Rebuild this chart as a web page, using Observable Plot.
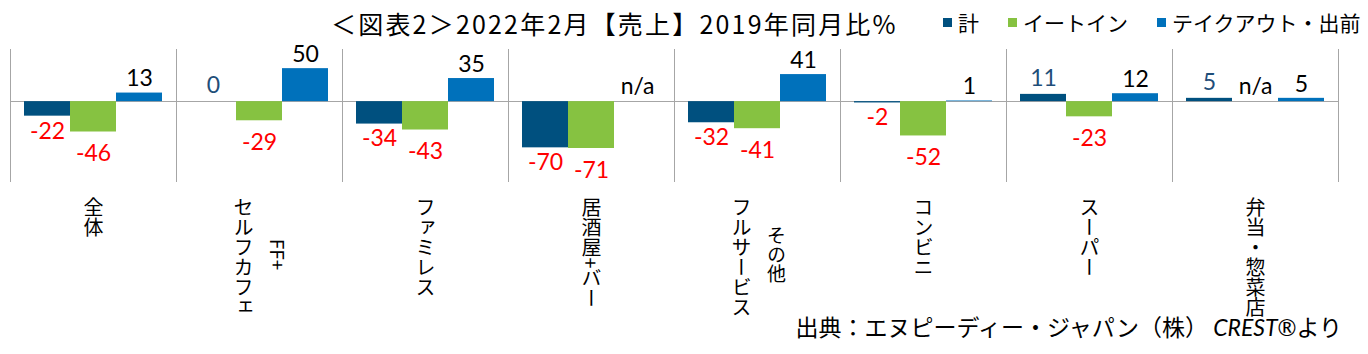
<!DOCTYPE html>
<html><head><meta charset="utf-8">
<script src="https://cdn.jsdelivr.net/npm/d3@7"></script>
<script src="https://cdn.jsdelivr.net/npm/@observablehq/plot@0.6"></script>
<style>
html,body{margin:0;padding:0;background:#fff;}
body{width:1368px;height:354px;position:relative;overflow:hidden;font-family:"Noto Sans CJK JP","Noto Sans",sans-serif;color:#000;}
#title{position:absolute;left:331px;top:7px;font-size:25px;letter-spacing:2.2px;white-space:nowrap;line-height:32px;}
#legend{position:absolute;left:943px;top:6px;font-size:21px;white-space:nowrap;line-height:32px;display:flex;}
#legend .item{display:flex;align-items:center;margin-right:29px;}
#legend .sw{display:inline-block;width:9px;height:9px;margin-right:6px;}
#chart{position:absolute;left:0;top:40px;}
#caption{position:absolute;right:26px;top:310px;font-size:23px;white-space:nowrap;line-height:32px;}
#caption i{font-family:"Lato","Noto Sans",sans-serif;}
text.vert{writing-mode:vertical-rl;}
</style>
</head><body>
<div id="title">＜図表2＞2022年2月【売上】2019年同月比%</div>
<div id="legend"></div>
<div id="chart"></div>
<div id="caption">出典：エヌピーディー・ジャパン（株） <i>CREST®</i>より</div>
<script>
const categories = ["全体","セルフカフェ","ファミレス","居酒屋+バー","フルサービス","コンビニ","スーパー","弁当・惣菜店"];
const subLabels = ["","FF+","","","その他","","",""];
const series = ["計","イートイン","テイクアウト・出前"];
const totalValues = [-22, 0, -34, -70, -32, -2, 11, 5];
const eatInValues = [-46, -29, -43, -71, -41, -52, -23, null];
const takeoutValues = [13, 50, 35, null, 41, 1, 12, 5];
const seriesColors = ["#00507f", "#86c241", "#0071bb"];

const valuesBySeries = [totalValues, eatInValues, takeoutValues];
const rows = [];
categories.forEach((c, i) => {
  series.forEach((s, j) => {
    rows.push({category: c, series: s, value: valuesBySeries[j][i]});
  });
});
const present = rows.filter(d => d.value != null);
const missing = rows.filter(d => d.value == null);
const catRows = categories.map((c, i) => ({category: c, sub: subLabels[i]}));

// legend
const legend = document.getElementById("legend");
series.forEach((s, j) => {
  const item = document.createElement("span");
  item.className = "item";
  item.innerHTML = `<span class="sw" style="background:${seriesColors[j]}"></span>${s}`;
  legend.appendChild(item);
});

const labelFont = {fontFamily: "Lato, 'Noto Sans', sans-serif", fontSize: 23};
const catFont = "'Noto Sans CJK JP', sans-serif";
const grid = "#a6a6a6";

const chart = Plot.plot({
  width: 1368,
  height: 280,
  marginTop: 9,
  marginBottom: 139,
  marginLeft: 7,
  marginRight: 27,
  fx: {domain: categories, padding: 0, axis: null},
  x: {domain: series, paddingInner: 0, paddingOuter: 0.3, axis: null},
  y: {domain: [-121, 79], axis: null},
  color: {domain: series, range: seriesColors},
  marks: [
    Plot.frame({anchor: "left", stroke: grid, shapeRendering: "crispEdges"}),
    Plot.frame({anchor: "right", stroke: grid, shapeRendering: "crispEdges"}),
    Plot.ruleY([0], {stroke: grid, shapeRendering: "crispEdges"}),
    Plot.barY(present, {fx: "category", x: "series", y: "value", fill: "series"}),
    // negative labels
    Plot.text(present.filter(d => d.value < 0 && d.series === series[0]), {fx: "category", x: "series", y: "value", text: d => String(d.value), dy: 15, fill: "#ff0000", ...labelFont}),
    Plot.text(present.filter(d => d.value < 0 && d.series === series[1]), {fx: "category", x: "series", y: "value", text: d => String(d.value), dy: 22, fill: "#ff0000", ...labelFont}),
    // positive labels
    Plot.text(present.filter(d => d.value >= 0 && d.series === series[0]), {fx: "category", x: "series", y: "value", text: d => String(d.value), dy: -16, fill: "#1f4e79", ...labelFont}),
    Plot.text(present.filter(d => d.value >= 0 && d.series === series[2]), {fx: "category", x: "series", y: "value", text: d => String(d.value), dy: -14, fill: "#000", ...labelFont}),
    // n/a labels
    Plot.text(missing, {fx: "category", x: "series", y: 0, text: () => "n/a", dy: -15, fill: "#000", ...labelFont}),
    // category labels (vertical)
    Plot.text(catRows.filter(d => !d.sub), {fx: "category", text: "category", frameAnchor: "bottom", dy: 16, textAnchor: "start", lineAnchor: "bottom", fontSize: 20, fill: "#000", fontFamily: catFont}),
    Plot.text(catRows.filter(d => d.sub), {fx: "category", text: "category", frameAnchor: "bottom", dx: -16, dy: 16, textAnchor: "start", lineAnchor: "bottom", fontSize: 20, fill: "#000", fontFamily: catFont}),
    Plot.text(catRows.filter(d => d.sub), {fx: "category", text: "sub", frameAnchor: "bottom", dx: 19, dy: 73, textAnchor: "middle", lineAnchor: "bottom", fontSize: 19, fill: "#000", fontFamily: catFont})
  ]
});
const vertTexts = new Set([...categories, ...subLabels.filter(s => s)]);
d3.select(chart).selectAll("text").each(function() {
  if (vertTexts.has(this.textContent)) this.classList.add("vert");
});
document.getElementById("chart").appendChild(chart);
</script>
</body></html>
